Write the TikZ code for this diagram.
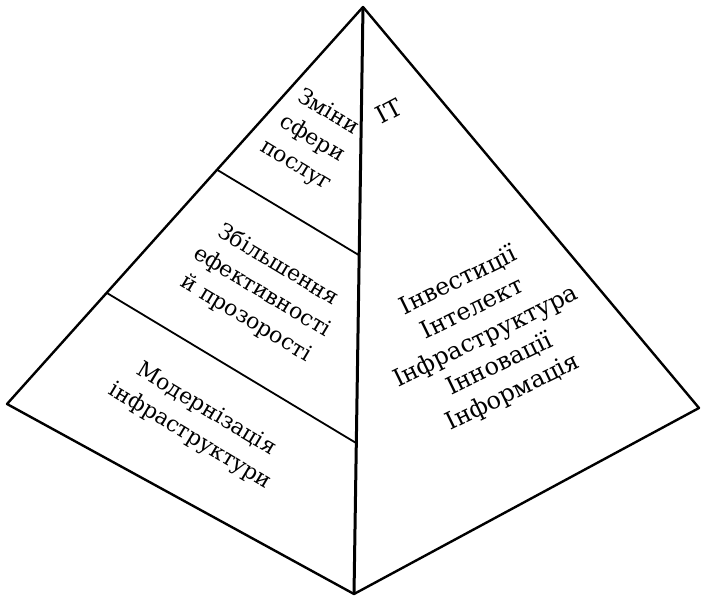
\documentclass[tikz,border=0pt]{standalone}
\usepackage{fontspec}
\setmainfont{DejaVu Serif}
\usetikzlibrary{calc}

\begin{document}
\begin{tikzpicture}[x=0.5pt,y=0.5pt,
    facetext/.style={align=center,font=\fontsize{12}{15.5}\selectfont},
    leftface/.style={align=center,font=\fontsize{11}{15.5}\selectfont,rotate=-31},
    rightface/.style={facetext,rotate=26}]
  \useasboundingbox (0,0) rectangle (701,598);
  % corners of the pyramid
  \coordinate (apex) at (363,591);
  \coordinate (lc) at (7,194);
  \coordinate (bc) at (354,4);
  \coordinate (rc) at (699,190);
  \draw[line width=1.2pt,line join=round] (apex) -- (lc) -- (bc) -- (rc) -- cycle;
  \draw[line width=1.5pt] (apex) -- (bc);
  % levels on the left face
  \draw[line width=0.9pt] ($(apex)!0.41!(lc)$) -- ($(apex)!0.423!(bc)$);
  \draw[line width=0.9pt] ($(apex)!0.72!(lc)$) -- ($(apex)!0.743!(bc)$);
  \node[leftface] (top) at (312,459) {Зміни\\сфери\\послуг};
  \node[leftface] (mid) at (262,306) {Збільшення\\ефективності\\й прозорості};
  \node[leftface] (low) at (198,175) {Модернізація\\інфраструктури};
  % right face
  \node[facetext,rotate=28] (it) at (389,487) {IT};
  \node[rightface] (five) at (486,261)
    {Інвестиції\\Інтелект\\Інфраструктура\\Інновації\\Інформація};
\end{tikzpicture}
\end{document}
